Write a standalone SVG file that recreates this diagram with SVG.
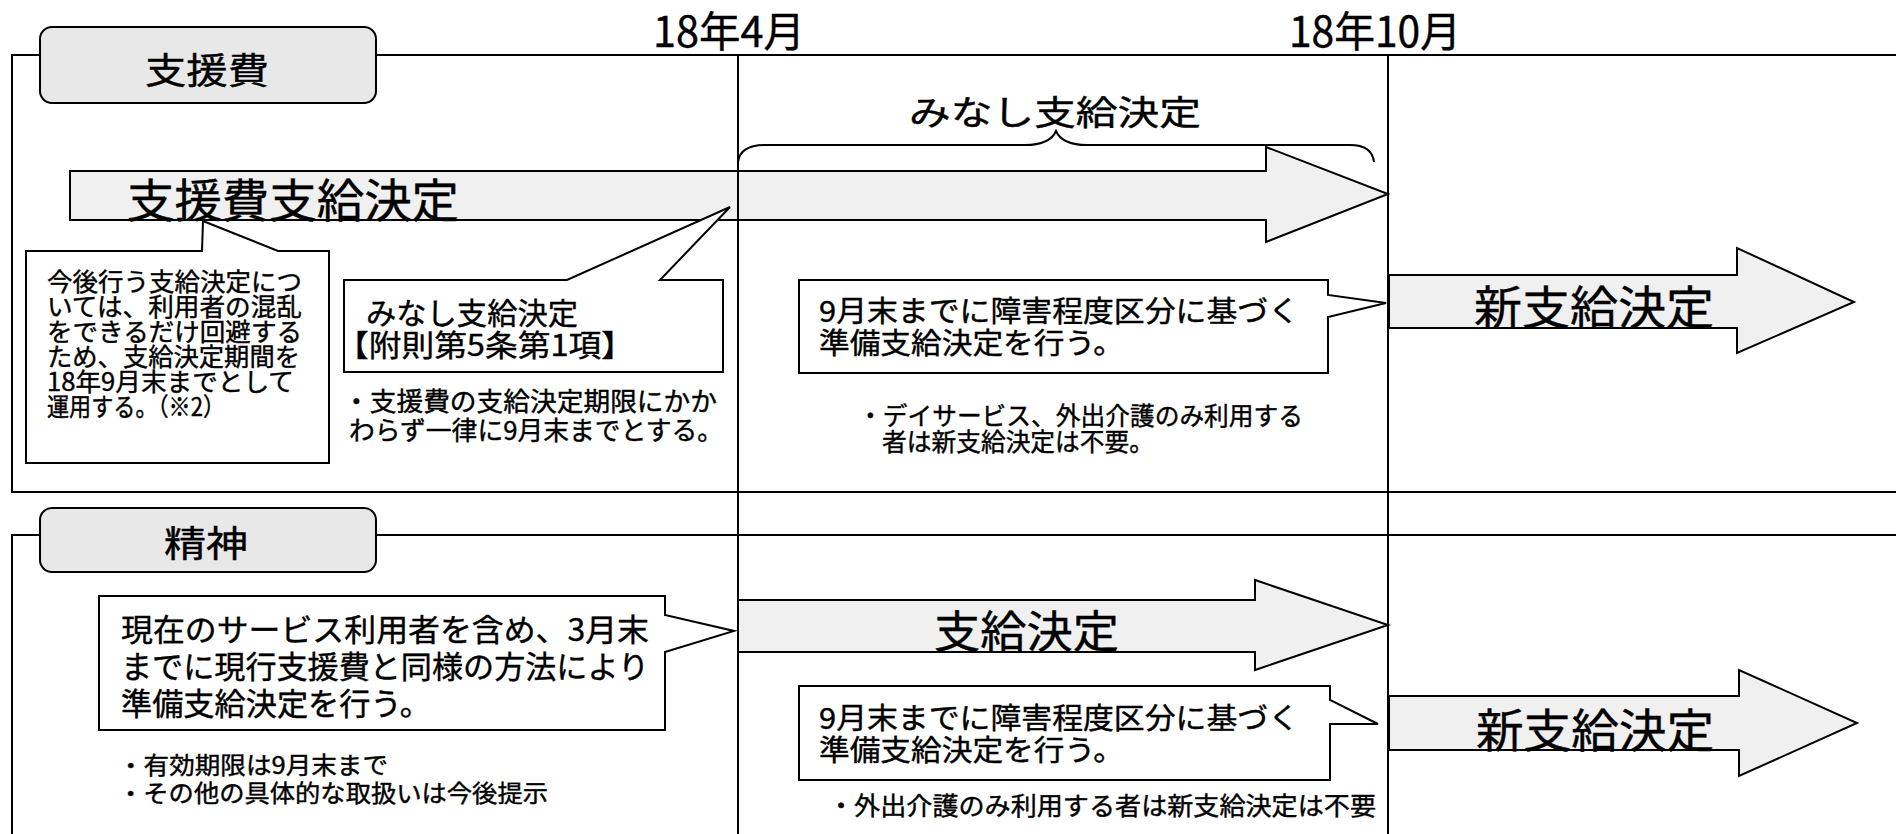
<svg xmlns="http://www.w3.org/2000/svg" width="1896" height="834" viewBox="0 0 1896 834">
<defs>
<style>
text{font-family:"Noto Sans CJK JP","Noto Sans CJK SC",sans-serif;font-weight:400;fill:#000;stroke:#000;stroke-width:0.4px;}
.frame{fill:none;stroke:#000;stroke-width:2;}
.tab{fill:#e8e8e8;stroke:#000;stroke-width:2;}
.arrow{fill:#f0f0f0;stroke:#000;stroke-width:2;stroke-linejoin:miter;}
.call{fill:#fff;stroke:#000;stroke-width:2;stroke-linejoin:miter;}
.tl{stroke:#000;stroke-width:2;fill:none;}
</style>
</defs>
<rect width="1896" height="834" fill="#fff"/>

<g id="frames">
<rect class="frame" x="12" y="55" width="1900" height="437"/>
<path class="frame" d="M12,840 L12,535 L1900,535"/>
</g>

<g id="tab-shienhi">
<rect class="tab" x="40" y="27" width="336" height="76" rx="12"/>
<text x="145" y="84" font-size="36" textLength="124" lengthAdjust="spacingAndGlyphs">支援費</text>
</g>
<g id="tab-seishin">
<rect class="tab" x="40" y="508" width="336" height="64" rx="12"/>
<text x="164" y="557" font-size="36" textLength="84" lengthAdjust="spacingAndGlyphs">精神</text>
</g>

<g id="timeline-labels">
<text x="653" y="47" font-size="42" textLength="152" lengthAdjust="spacingAndGlyphs">18年4月</text>
<text x="1289" y="47" font-size="42" textLength="172" lengthAdjust="spacingAndGlyphs">18年10月</text>
</g>

<g id="arrow-shienhi">
<polygon class="arrow" points="70,171 1266,171 1266,147 1388,194 1266,242 1266,220 70,220"/>
<text x="127" y="217" font-size="46" textLength="332" lengthAdjust="spacingAndGlyphs">支援費支給決定</text>
</g>

<g id="brace-minashi">
<path class="tl" d="M738,162 Q740,145 765,145 L1025,145 Q1050,145 1056,131 Q1062,145 1087,145 L1350,145 Q1372,145 1374,162"/>
<text x="909" y="125" font-size="34" textLength="292" lengthAdjust="spacingAndGlyphs">みなし支給決定</text>
</g>

<g id="arrow-new1">
<polygon class="arrow" points="1389,275 1737,275 1737,248 1854,302 1737,353 1737,328 1389,328"/>
<text x="1474" y="324" font-size="46" textLength="240" lengthAdjust="spacingAndGlyphs">新支給決定</text>
</g>

<g id="arrow-shikyu2">
<polygon class="arrow" points="738,600 1255,600 1255,580 1388,625 1255,670 1255,652 738,652"/>
<text x="934" y="648" font-size="44" textLength="185" lengthAdjust="spacingAndGlyphs">支給決定</text>
</g>

<g id="arrow-new2">
<polygon class="arrow" points="1389,696 1739,696 1739,670 1857,723 1739,776 1739,750 1389,750"/>
<text x="1476" y="747" font-size="46" textLength="238" lengthAdjust="spacingAndGlyphs">新支給決定</text>
</g>

<g id="callout-kongo">
<path class="call" d="M26,251 L202,251 L203,221 L278,251 L329,251 L329,463 L26,463 Z"/>
<g font-size="25">
<text x="47" y="291" textLength="255" lengthAdjust="spacingAndGlyphs">今後行う支給決定につ</text>
<text x="47" y="316" textLength="255" lengthAdjust="spacingAndGlyphs">いては、利用者の混乱</text>
<text x="47" y="341" textLength="255" lengthAdjust="spacingAndGlyphs">をできるだけ回避する</text>
<text x="47" y="366" textLength="253" lengthAdjust="spacingAndGlyphs">ため、支給決定期間を</text>
<text x="47" y="391" textLength="247" lengthAdjust="spacingAndGlyphs">18年9月末までとして</text>
<text x="47" y="416" textLength="178" lengthAdjust="spacingAndGlyphs">運用する。（※2）</text>
</g>
</g>

<g id="callout-minashi">
<path class="call" d="M344,280 L567,280 L730,207 L660,280 L723,280 L723,372 L344,372 Z"/>
<text x="366" y="324" font-size="30" textLength="212" lengthAdjust="spacingAndGlyphs">みなし支給決定</text>
<text x="336" y="356" font-size="30" textLength="298" lengthAdjust="spacingAndGlyphs">【附則第5条第1項】</text>
</g>
<g id="note-minashi" font-size="26">
<text x="343" y="411" textLength="374" lengthAdjust="spacingAndGlyphs">・支援費の支給決定期限にかか</text>
<text x="349" y="440" textLength="374" lengthAdjust="spacingAndGlyphs">わらず一律に9月末までとする。</text>
</g>

<g id="callout-junbi1">
<path class="call" d="M799,280 L1328,280 L1328,295 L1386,303 L1328,317 L1328,373 L799,373 Z"/>
<text x="819" y="322" font-size="29" textLength="480" lengthAdjust="spacingAndGlyphs">9月末までに障害程度区分に基づく</text>
<text x="819" y="354" font-size="29" textLength="305" lengthAdjust="spacingAndGlyphs">準備支給決定を行う。</text>
</g>
<g id="note-junbi1" font-size="25">
<text x="858" y="425" textLength="445" lengthAdjust="spacingAndGlyphs">・デイサービス、外出介護のみ利用する</text>
<text x="882" y="451" textLength="272" lengthAdjust="spacingAndGlyphs">者は新支給決定は不要。</text>
</g>

<g id="callout-seishin">
<path class="call" d="M99,596 L665,596 L665,615 L734,631 L665,652 L665,730 L99,730 Z"/>
<g font-size="31">
<text x="121" y="641" textLength="528" lengthAdjust="spacingAndGlyphs">現在のサービス利用者を含め、3月末</text>
<text x="121" y="678" textLength="528" lengthAdjust="spacingAndGlyphs">までに現行支援費と同様の方法により</text>
<text x="121" y="715" textLength="310" lengthAdjust="spacingAndGlyphs">準備支給決定を行う。</text>
</g>
</g>
<g id="note-seishin" font-size="24">
<text x="118" y="774" textLength="270" lengthAdjust="spacingAndGlyphs">・有効期限は9月末まで</text>
<text x="118" y="802" textLength="430" lengthAdjust="spacingAndGlyphs">・その他の具体的な取扱いは今後提示</text>
</g>

<g id="callout-junbi2">
<path class="call" d="M799,686 L1330,686 L1330,700 L1378,724 L1330,724 L1330,780 L799,780 Z"/>
<text x="819" y="729" font-size="29" textLength="480" lengthAdjust="spacingAndGlyphs">9月末までに障害程度区分に基づく</text>
<text x="819" y="761" font-size="29" textLength="305" lengthAdjust="spacingAndGlyphs">準備支給決定を行う。</text>
</g>
<g id="note-junbi2">
<text x="828" y="815" font-size="25" textLength="548" lengthAdjust="spacingAndGlyphs">・外出介護のみ利用する者は新支給決定は不要</text>
</g>

<g id="connectors">
<line class="tl" x1="738" y1="55" x2="738" y2="834"/>
<line class="tl" x1="1388" y1="55" x2="1388" y2="834"/>
</g>
</svg>
